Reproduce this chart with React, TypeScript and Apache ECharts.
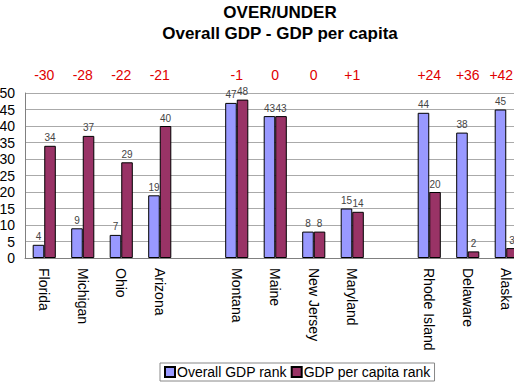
import React, { useEffect, useRef } from "react";
import * as echarts from "echarts";

const states = ["Florida", "Michigan", "Ohio", "Arizona", "", "Montana", "Maine", "New Jersey", "Maryland", "", "Rhode Island", "Delaware", "Alaska"];
const overallRank: (number | null)[] = [4, 9, 7, 19, null, 47, 43, 8, 15, null, 44, 38, 45];
const perCapitaRank: (number | null)[] = [34, 37, 29, 40, null, 48, 43, 8, 14, null, 20, 2, 3];
const overUnder = ["-30", "-28", "-22", "-21", "", "-1", "0", "0", "+1", "", "+24", "+36", "+42"];
const seriesNames = ["Overall GDP rank", "GDP per capita rank"];

export default function App() {
  const ref = useRef<HTMLDivElement>(null);
  useEffect(() => {
    document.body.style.margin = "0";
    const chart = echarts.init(ref.current!, null, { renderer: "svg" });
    const font = "Arial, 'Liberation Sans', sans-serif";
    const label = {
      show: true,
      position: "top" as const,
      distance: 3,
      fontSize: 10,
      color: "#444",
      fontFamily: font,
    };
    const topLabels = overUnder.map((v, i) =>
      i === overUnder.length - 1 ? { value: v, textStyle: { padding: [0, 10, 0, 0] } } : v
    );
    chart.setOption({
      animation: false,
      backgroundColor: "#fff",
      title: {
        text: "OVER/UNDER\nOverall GDP - GDP per capita",
        left: 280,
        top: 2,
        padding: 0,
        textAlign: "center",
        textStyle: { fontSize: 17, fontWeight: "bold", fontFamily: font, color: "#000", lineHeight: 21 },
      },
      legend: {
        left: 160,
        top: 363,
        itemWidth: 10,
        itemHeight: 10,
        itemGap: 4,
        padding: [2, 4],
        borderColor: "#888",
        borderWidth: 1,
        textStyle: { fontSize: 14, fontFamily: font, color: "#000", padding: [0, 0, 0, -3] },
        data: seriesNames.map((n) => ({ name: n, icon: "rect" })),
      },
      grid: { left: 25, top: 93, width: 500.5, height: 165, containLabel: false, outerBoundsMode: "none" },
      xAxis: [
        {
          type: "category",
          data: states,
          position: "bottom",
          axisLine: { lineStyle: { color: "#808080" } },
          axisTick: { show: false },
          axisLabel: { rotate: -90, fontSize: 14, color: "#000", fontFamily: font, margin: 10, interval: 0 },
        },
        {
          type: "category",
          data: topLabels,
          position: "top",
          axisLine: { show: false },
          axisTick: { show: false },
          axisLabel: { fontSize: 14, color: "#e00000", fontFamily: font, margin: 11, interval: 0 },
        },
      ],
      yAxis: {
        type: "value",
        min: 0,
        max: 50,
        interval: 5,
        axisLine: { show: true, lineStyle: { color: "#808080" } },
        axisTick: { show: false },
        splitLine: { lineStyle: { color: "#aaa" } },
        axisLabel: { fontSize: 14, color: "#000", fontFamily: font, margin: 10 },
      },
      series: [
        {
          name: seriesNames[0],
          type: "bar",
          data: overallRank,
          barGap: "0%",
          barCategoryGap: "40%",
          itemStyle: { color: "#9999ff", borderColor: "#000", borderWidth: 1 },
          label,
        },
        {
          name: seriesNames[1],
          type: "bar",
          data: perCapitaRank,
          itemStyle: { color: "#993366", borderColor: "#000", borderWidth: 1 },
          label,
        },
      ],
    });
    return () => chart.dispose();
  }, []);
  return <div ref={ref} style={{ width: 514, height: 385 }} />;
}
